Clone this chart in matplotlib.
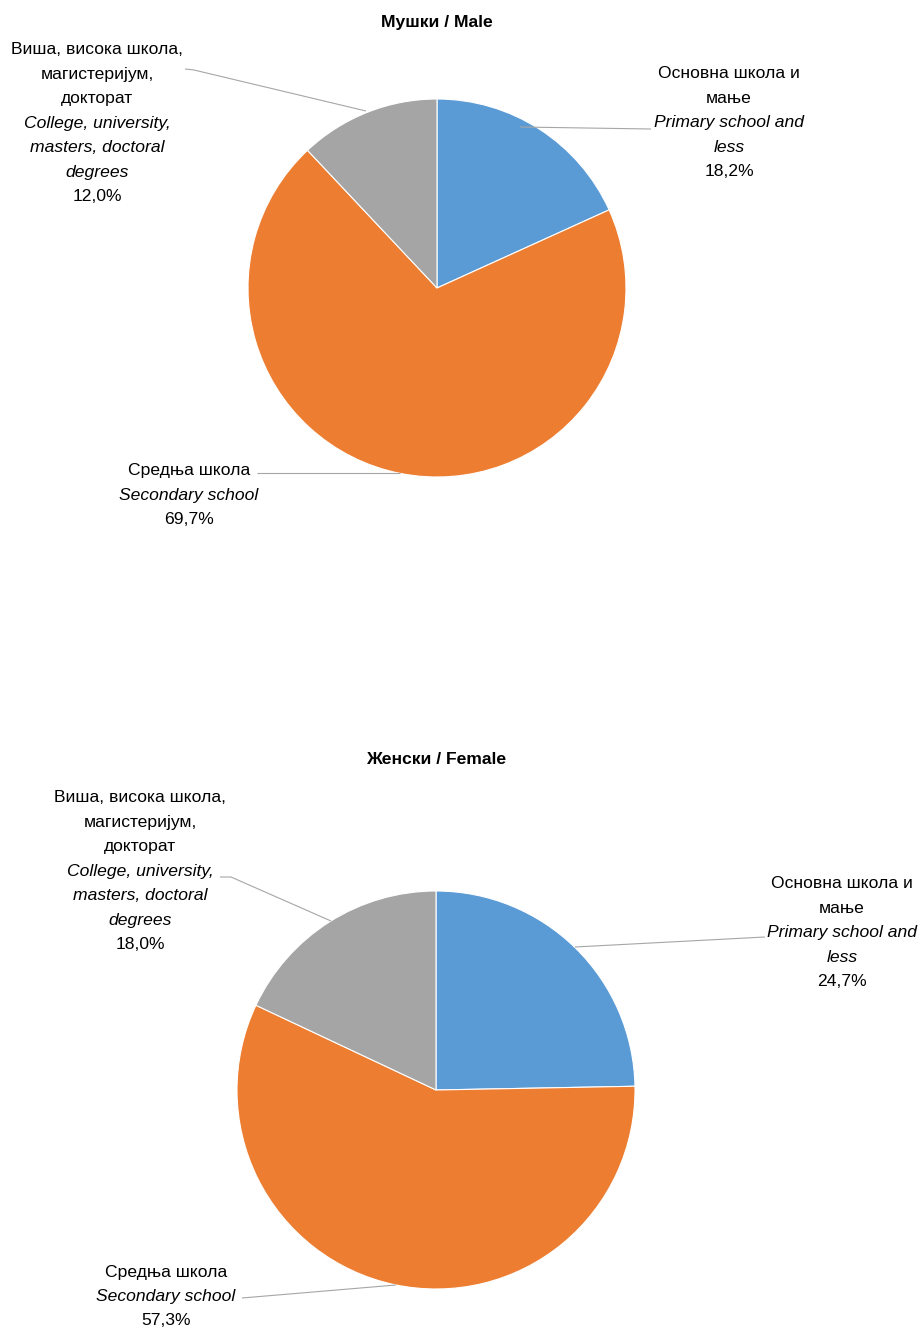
import matplotlib
matplotlib.use("Agg")
import matplotlib.pyplot as plt
from matplotlib import font_manager

# Data
categories_sr = ["Основна школа и\nмање", "Средња школа", "Виша, висока школа,\nмагистеријум,\nдокторат"]
categories_en = ["Primary school and\nless", "Secondary school", "College, university,\nmasters, doctoral\ndegrees"]
male_values = [18.2, 69.7, 12.0]
female_values = [24.7, 57.3, 18.0]
titles = ["Мушки / Male", "Женски / Female"]
colors = ["#5B9BD5", "#ED7D31", "#A5A5A5"]

W, H = 920, 1331

names = [f.name for f in font_manager.fontManager.ttflist]
if "Liberation Sans Narrow" in names:
    FONT = ["Liberation Sans Narrow", "DejaVu Sans"]
    FS = 13.5
else:
    FONT = ["Liberation Sans", "DejaVu Sans"]
    FS = 12.6
plt.rcParams["font.family"] = FONT

LH = 24.4  # line height in px


def fmt(v):
    return f"{v:.1f}%".replace(".", ",")


def label_block(ax, x, y_top, sr, en, val):
    # regular + italic lines centred at x, first line centred at y_top (px from top)
    lines = [(s, "normal") for s in sr.split("\n")] + \
            [(s, "italic") for s in en.split("\n")] + [(fmt(val), "normal")]
    for i, (txt, style) in enumerate(lines):
        ax.text(x, H - (y_top + i * LH), txt, ha="center", va="center",
                fontsize=FS, style=style, color="black")


def leader(ax, pts):
    xs = [p[0] for p in pts]
    ys = [H - p[1] for p in pts]
    ax.plot(xs, ys, color="#A6A6A6", lw=0.8, solid_capstyle="butt")


fig = plt.figure(figsize=(W / 100, H / 100), dpi=100)
ax = fig.add_axes([0, 0, 1, 1])
ax.set_xlim(0, W)
ax.set_ylim(0, H)
ax.set_aspect("equal")
ax.axis("off")

# pie geometry (pixels) and label layout
pies = [
    dict(values=male_values, center=(437, 288), r=189, title_y=22,
         labels=[(729, 74), (189, 471), (97, 50)],
         leaders=[[(520, 127), (651, 129)], [(400, 473), (257, 473)],
                  [(366, 111), (194, 70), (185, 69)]]),
    dict(values=female_values, center=(436, 1090), r=199, title_y=760,
         labels=[(842, 884), (166, 1272), (140, 798)],
         leaders=[[(575, 947), (765, 937)], [(396, 1285), (242, 1298)],
                  [(331, 921), (231, 877), (220, 877)]]),
]

for k, p in enumerate(pies):
    cx, cy = p["center"]
    ax.pie(p["values"], colors=colors, startangle=90, counterclock=False,
           center=(cx, H - cy), radius=p["r"],
           wedgeprops=dict(edgecolor="white", linewidth=0.8))
    ax.text(cx, H - p["title_y"], titles[k], ha="center", va="center",
            fontsize=FS, fontweight="bold")
    for i in range(3):
        label_block(ax, p["labels"][i][0], p["labels"][i][1],
                    categories_sr[i], categories_en[i], p["values"][i])
        leader(ax, p["leaders"][i])

ax.set_xlim(0, W)
ax.set_ylim(0, H)

fig.savefig("out.png", dpi=100)
